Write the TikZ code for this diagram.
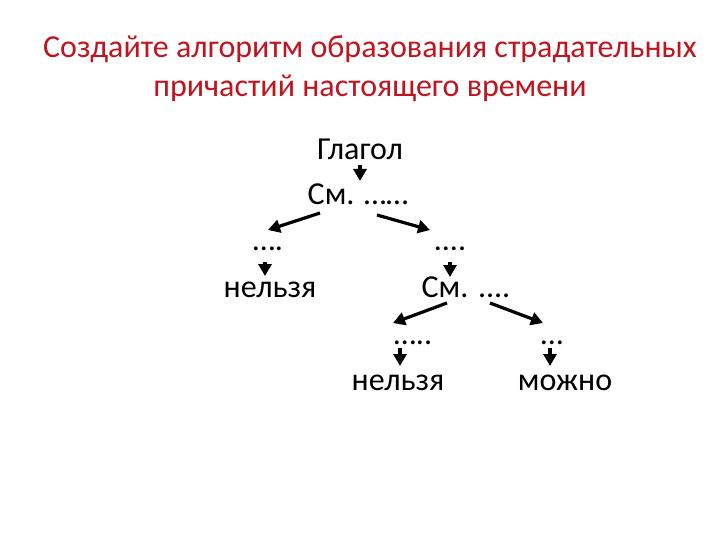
\documentclass[tikz,border=0pt]{standalone}
\usepackage{fontspec}
\setmainfont{Carlito}
\usetikzlibrary{arrows.meta,calc}
\definecolor{titlered}{RGB}{192,20,30}
\begin{document}
\begin{tikzpicture}[x=1pt,y=-1pt,
  lbl/.style={anchor=base,inner sep=0pt,font=\fontsize{32}{36}\selectfont},
  ttl/.style={anchor=base,inner sep=0pt,text=titlered,font=\fontsize{32}{38}\selectfont},
  arr/.style={line width=3.2pt,-{Triangle[length=12pt,width=13pt]}}]
\useasboundingbox[fill=white] (0,0) rectangle (720,540);
\node[ttl] (t1) at (370,58) {Создайте алгоритм образования страдательных};
\node[ttl] (t2) at (370,97) {причастий настоящего времени};
\node[lbl] (g) at (360,160) {Глагол};
\node[lbl] (sm1) at (358,205) {См. ……};
\node[lbl] (d1) at (268,250) {….};
\node[lbl] (n1) at (270,297) {нельзя};
\node[lbl] (d2) at (450,250) {....};
\node[lbl] (sm2) at (466,297) {См. ....};
\node[lbl] (d3) at (413,344) {…..};
\node[lbl] (d4) at (552,344) {…};
\node[lbl] (n2) at (398,390) {нельзя};
\node[lbl] (m) at (565,390) {можно};
\draw[arr] ($(g.base)+(0,5)$) -- ($(sm1.base)+(2,-24)$);
\draw[arr] ($(sm1.base)+(-38,8)$) -- ($(d1.base)+(0,-20)$);
\draw[arr] ($(sm1.base)+(19,10)$) -- ($(d2.base)+(-20,-20)$);
\draw[arr] ($(d1.base)+(-3,12)$) -- ($(n1.base)+(-5,-21)$);
\draw[arr] ($(d2.base)+(0,12)$) -- ($(sm2.base)+(-16,-20)$);
\draw[arr] ($(sm2.base)+(-19,6)$) -- ($(d3.base)+(-20,-21)$);
\draw[arr] ($(sm2.base)+(24,6)$) -- ($(d4.base)+(-9,-21)$);
\draw[arr] ($(d3.base)+(-13,4)$) -- ($(n2.base)+(2,-24)$);
\draw[arr] ($(d4.base)+(-2,4)$) -- ($(m.base)+(-15,-24)$);
\end{tikzpicture}
\end{document}
